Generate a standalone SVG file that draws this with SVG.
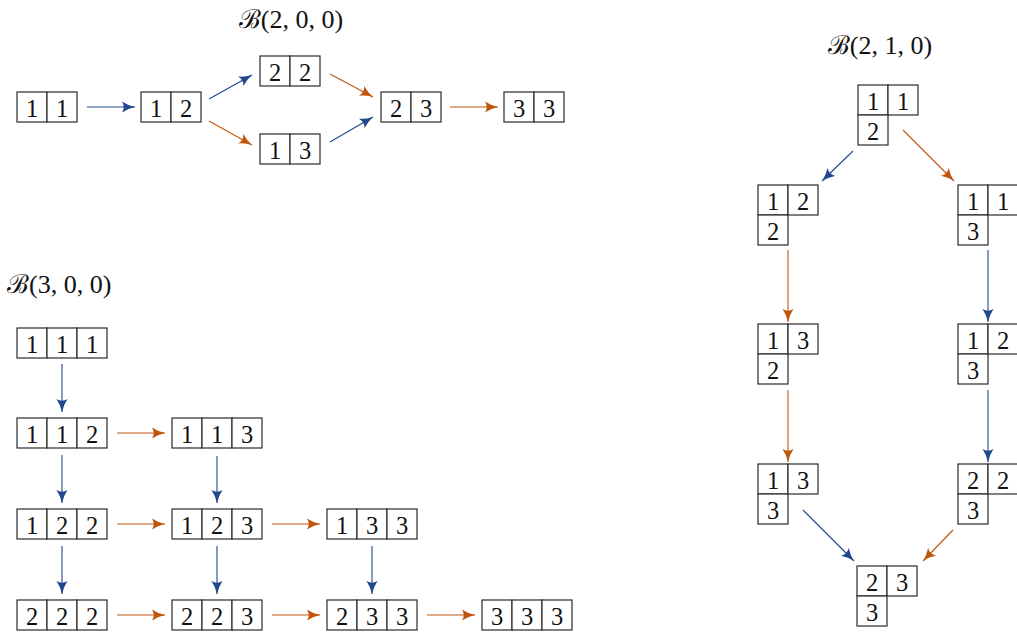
<svg xmlns="http://www.w3.org/2000/svg" width="1017" height="633" viewBox="0 0 1017 633">
<defs>
<style>
.c{fill:#fff;stroke:#2a2a2a;stroke-width:1.2}
.n{font-family:"Liberation Serif","DejaVu Serif",serif;font-size:24.5px;text-anchor:middle;fill:#111}
.t{font-family:"Liberation Serif","DejaVu Serif",serif;font-size:26px;fill:#111}
.b{stroke:#21478f;stroke-width:1.1;fill:none;marker-end:url(#ab)}
.o{stroke:#c0560e;stroke-width:1.1;fill:none;marker-end:url(#ao)}
</style>
<marker id="ab" markerUnits="userSpaceOnUse" markerWidth="14" markerHeight="12" viewBox="0 0 14 12" refX="13" refY="6" orient="auto"><path d="M0,0.5 Q6,4.5 13,6 Q6,7.5 0,11.5 Q3.5,6 0,0.5 Z" fill="#21478f"/></marker>
<marker id="ao" markerUnits="userSpaceOnUse" markerWidth="14" markerHeight="12" viewBox="0 0 14 12" refX="13" refY="6" orient="auto"><path d="M0,0.5 Q6,4.5 13,6 Q6,7.5 0,11.5 Q3.5,6 0,0.5 Z" fill="#c0560e"/></marker>
</defs>
<rect width="1017" height="633" fill="#fff"/>
<g id="titles">
<text class="t" x="291" y="28" text-anchor="middle">ℬ(2, 0, 0)</text>
<text class="t" x="7" y="293">ℬ(3, 0, 0)</text>
<text class="t" x="880" y="54" text-anchor="middle">ℬ(2, 1, 0)</text>
</g>
<g id="connectors">
<line class="b" x1="87" y1="107" x2="135" y2="107"/>
<line class="b" x1="209" y1="99" x2="252" y2="75"/>
<line class="o" x1="209" y1="121" x2="252" y2="145"/>
<line class="o" x1="330" y1="74" x2="373" y2="97"/>
<line class="b" x1="330" y1="142" x2="373" y2="117"/>
<line class="o" x1="450" y1="107" x2="498" y2="107"/>
<line class="b" x1="62" y1="364" x2="62" y2="412"/>
<line class="b" x1="62" y1="455" x2="62" y2="503"/>
<line class="b" x1="217" y1="456" x2="217" y2="503"/>
<line class="b" x1="62" y1="546" x2="62" y2="594"/>
<line class="b" x1="217" y1="546" x2="217" y2="594"/>
<line class="b" x1="372" y1="546" x2="372" y2="594"/>
<line class="o" x1="117" y1="433" x2="165" y2="433"/>
<line class="o" x1="117" y1="524" x2="165" y2="524"/>
<line class="o" x1="272" y1="524" x2="320" y2="524"/>
<line class="o" x1="117" y1="615" x2="165" y2="615"/>
<line class="o" x1="272" y1="615" x2="320" y2="615"/>
<line class="o" x1="427" y1="615" x2="475" y2="615"/>
<line class="b" x1="853" y1="151" x2="822" y2="181"/>
<line class="o" x1="903" y1="130" x2="954" y2="181"/>
<line class="o" x1="788" y1="250" x2="788" y2="322"/>
<line class="o" x1="788" y1="390" x2="788" y2="462"/>
<line class="b" x1="988" y1="250" x2="988" y2="322"/>
<line class="b" x1="988" y1="390" x2="988" y2="462"/>
<line class="b" x1="803" y1="510" x2="854" y2="561"/>
<line class="o" x1="953" y1="530" x2="923" y2="561"/>
</g>
<g id="a11"><rect class="c" x="17" y="92" width="30" height="30"/><rect class="c" x="47" y="92" width="30" height="30"/><text class="n" x="32" y="116.5">1</text><text class="n" x="62" y="116.5">1</text></g>
<g id="a12"><rect class="c" x="141" y="92" width="30" height="30"/><rect class="c" x="171" y="92" width="30" height="30"/><text class="n" x="156" y="116.5">1</text><text class="n" x="186" y="116.5">2</text></g>
<g id="a22"><rect class="c" x="260" y="56" width="30" height="30"/><rect class="c" x="290" y="56" width="30" height="30"/><text class="n" x="275" y="80.5">2</text><text class="n" x="305" y="80.5">2</text></g>
<g id="a13"><rect class="c" x="260" y="134" width="30" height="30"/><rect class="c" x="290" y="134" width="30" height="30"/><text class="n" x="275" y="158.5">1</text><text class="n" x="305" y="158.5">3</text></g>
<g id="a23"><rect class="c" x="381" y="92" width="30" height="30"/><rect class="c" x="411" y="92" width="30" height="30"/><text class="n" x="396" y="116.5">2</text><text class="n" x="426" y="116.5">3</text></g>
<g id="a33"><rect class="c" x="504" y="92" width="30" height="30"/><rect class="c" x="534" y="92" width="30" height="30"/><text class="n" x="519" y="116.5">3</text><text class="n" x="549" y="116.5">3</text></g>
<g id="b111"><rect class="c" x="17" y="328" width="30" height="30"/><rect class="c" x="47" y="328" width="30" height="30"/><rect class="c" x="77" y="328" width="30" height="30"/><text class="n" x="32" y="352.5">1</text><text class="n" x="62" y="352.5">1</text><text class="n" x="92" y="352.5">1</text></g>
<g id="b112"><rect class="c" x="17" y="418" width="30" height="30"/><rect class="c" x="47" y="418" width="30" height="30"/><rect class="c" x="77" y="418" width="30" height="30"/><text class="n" x="32" y="442.5">1</text><text class="n" x="62" y="442.5">1</text><text class="n" x="92" y="442.5">2</text></g>
<g id="b113"><rect class="c" x="172" y="418" width="30" height="30"/><rect class="c" x="202" y="418" width="30" height="30"/><rect class="c" x="232" y="418" width="30" height="30"/><text class="n" x="187" y="442.5">1</text><text class="n" x="217" y="442.5">1</text><text class="n" x="247" y="442.5">3</text></g>
<g id="b122"><rect class="c" x="17" y="509" width="30" height="30"/><rect class="c" x="47" y="509" width="30" height="30"/><rect class="c" x="77" y="509" width="30" height="30"/><text class="n" x="32" y="533.5">1</text><text class="n" x="62" y="533.5">2</text><text class="n" x="92" y="533.5">2</text></g>
<g id="b123"><rect class="c" x="172" y="509" width="30" height="30"/><rect class="c" x="202" y="509" width="30" height="30"/><rect class="c" x="232" y="509" width="30" height="30"/><text class="n" x="187" y="533.5">1</text><text class="n" x="217" y="533.5">2</text><text class="n" x="247" y="533.5">3</text></g>
<g id="b133"><rect class="c" x="327" y="509" width="30" height="30"/><rect class="c" x="357" y="509" width="30" height="30"/><rect class="c" x="387" y="509" width="30" height="30"/><text class="n" x="342" y="533.5">1</text><text class="n" x="372" y="533.5">3</text><text class="n" x="402" y="533.5">3</text></g>
<g id="b222"><rect class="c" x="17" y="600" width="30" height="30"/><rect class="c" x="47" y="600" width="30" height="30"/><rect class="c" x="77" y="600" width="30" height="30"/><text class="n" x="32" y="624.5">2</text><text class="n" x="62" y="624.5">2</text><text class="n" x="92" y="624.5">2</text></g>
<g id="b223"><rect class="c" x="172" y="600" width="30" height="30"/><rect class="c" x="202" y="600" width="30" height="30"/><rect class="c" x="232" y="600" width="30" height="30"/><text class="n" x="187" y="624.5">2</text><text class="n" x="217" y="624.5">2</text><text class="n" x="247" y="624.5">3</text></g>
<g id="b233"><rect class="c" x="327" y="600" width="30" height="30"/><rect class="c" x="357" y="600" width="30" height="30"/><rect class="c" x="387" y="600" width="30" height="30"/><text class="n" x="342" y="624.5">2</text><text class="n" x="372" y="624.5">3</text><text class="n" x="402" y="624.5">3</text></g>
<g id="b333"><rect class="c" x="482" y="600" width="30" height="30"/><rect class="c" x="512" y="600" width="30" height="30"/><rect class="c" x="542" y="600" width="30" height="30"/><text class="n" x="497" y="624.5">3</text><text class="n" x="527" y="624.5">3</text><text class="n" x="557" y="624.5">3</text></g>
<g id="c112"><rect class="c" x="858" y="85" width="30" height="30"/><rect class="c" x="888" y="85" width="30" height="30"/><rect class="c" x="858" y="115" width="30" height="30"/><text class="n" x="873" y="109.5">1</text><text class="n" x="903" y="109.5">1</text><text class="n" x="873" y="139.5">2</text></g>
<g id="c122"><rect class="c" x="758" y="185" width="30" height="30"/><rect class="c" x="788" y="185" width="30" height="30"/><rect class="c" x="758" y="215" width="30" height="30"/><text class="n" x="773" y="209.5">1</text><text class="n" x="803" y="209.5">2</text><text class="n" x="773" y="239.5">2</text></g>
<g id="c113"><rect class="c" x="958" y="185" width="30" height="30"/><rect class="c" x="988" y="185" width="30" height="30"/><rect class="c" x="958" y="215" width="30" height="30"/><text class="n" x="973" y="209.5">1</text><text class="n" x="1003" y="209.5">1</text><text class="n" x="973" y="239.5">3</text></g>
<g id="c132"><rect class="c" x="758" y="324" width="30" height="30"/><rect class="c" x="788" y="324" width="30" height="30"/><rect class="c" x="758" y="354" width="30" height="30"/><text class="n" x="773" y="348.5">1</text><text class="n" x="803" y="348.5">3</text><text class="n" x="773" y="378.5">2</text></g>
<g id="c123"><rect class="c" x="958" y="324" width="30" height="30"/><rect class="c" x="988" y="324" width="30" height="30"/><rect class="c" x="958" y="354" width="30" height="30"/><text class="n" x="973" y="348.5">1</text><text class="n" x="1003" y="348.5">2</text><text class="n" x="973" y="378.5">3</text></g>
<g id="c133"><rect class="c" x="758" y="464" width="30" height="30"/><rect class="c" x="788" y="464" width="30" height="30"/><rect class="c" x="758" y="494" width="30" height="30"/><text class="n" x="773" y="488.5">1</text><text class="n" x="803" y="488.5">3</text><text class="n" x="773" y="518.5">3</text></g>
<g id="c223"><rect class="c" x="958" y="464" width="30" height="30"/><rect class="c" x="988" y="464" width="30" height="30"/><rect class="c" x="958" y="494" width="30" height="30"/><text class="n" x="973" y="488.5">2</text><text class="n" x="1003" y="488.5">2</text><text class="n" x="973" y="518.5">3</text></g>
<g id="c233"><rect class="c" x="857" y="566" width="30" height="30"/><rect class="c" x="887" y="566" width="30" height="30"/><rect class="c" x="857" y="596" width="30" height="30"/><text class="n" x="872" y="590.5">2</text><text class="n" x="902" y="590.5">3</text><text class="n" x="872" y="620.5">3</text></g>
</svg>
